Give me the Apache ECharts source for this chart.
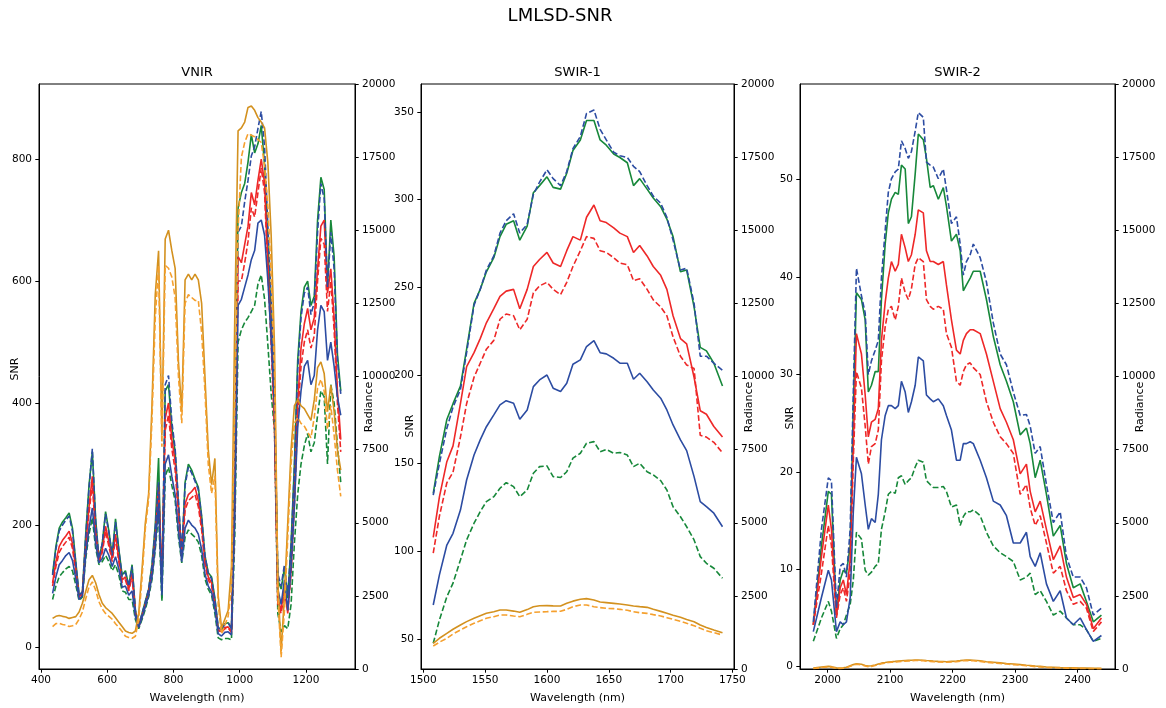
<!DOCTYPE html>
<html><head><meta charset="utf-8">
<script src="https://cdn.jsdelivr.net/npm/echarts@6/dist/echarts.min.js"></script>
<style>html,body{margin:0;padding:0;background:#fff}#c{width:1166px;height:708px}</style>
</head><body><div id="c"></div>
<script>
// ---------------- VNIR ----------------
const vnirWl = [435,445,455,465,475,485,495,505,515,525,535,545,555,565,575,585,595,605,615,625,635,645,655,665,675,685,695,705,715,725,735,745,755,765,775,785,795,805,815,825,835,845,855,865,875,885,895,905,915,925,935,945,955,965,975,985,995,1005,1015,1025,1035,1045,1055,1065,1075,1085,1095,1105,1115,1125,1135,1145,1155,1165,1175,1185,1195,1205,1215,1225,1235,1245,1255,1265,1275,1285,1295,1305];
const vnirGreen = [120,165,195,205,212,220,195,140,85,90, 185,265,320,210,145,170,222,190,150,210, 160,118,125,100,135,60,35,55,75,95, 135,200,310,80,420,430,360,320,235,150, 270,300,290,275,262,215,150,122,115,80, 32,28,38,40,30,300,720,745,760,795, 840,810,825,855,790,660,540,400,110,95, 130,80,170,300,470,550,590,600,560,575, 700,770,750,590,700,640,480,420];
const vnirBlueDash = [118,160,190,200,208,215,190,138,85,90, 180,260,325,205,145,170,218,188,150,205, 158,116,122,100,132,60,35,54,74,95, 132,195,270,85,430,445,370,325,240,155, 265,295,285,272,258,212,150,120,112,78, 32,28,38,40,30,280,680,690,730,765, 805,820,850,878,820,690,570,420,120,100, 135,85,165,290,455,540,580,590,545,565, 680,760,735,590,680,620,470,415];
const vnirRed = [105,140,165,175,182,190,170,128,82,88, 165,230,280,190,140,160,198,172,145,185, 145,110,115,95,120,56,33,52,70,90, 125,180,265,110,375,400,340,305,225,150, 235,250,255,262,240,200,140,115,105,72, 28,25,32,33,25,250,640,630,660,690, 745,725,765,800,760,630,510,370,80,60, 100,55,130,250,400,490,530,555,520,540, 620,690,700,580,620,540,420,340];
const vnirRedDash = [100,132,155,165,172,180,162,122,80,86, 158,220,268,182,138,155,190,165,140,178, 140,106,110,92,115,55,33,50,68,88, 120,172,250,105,355,380,325,290,215,145, 225,240,245,250,230,192,135,110,100,70, 27,24,30,31,24,230,600,600,630,665, 720,705,745,785,745,615,495,355,70,55, 90,60,120,230,380,460,500,520,490,510, 600,670,660,550,600,520,400,320];
const vnirBlue = [88,115,135,142,150,155,142,112,78,84, 150,195,228,170,138,145,162,150,132,148, 128,98,100,85,92,50,32,48,66,85, 115,165,235,90,300,315,280,250,190,140, 195,208,200,195,185,160,120,100,90,62, 22,18,24,25,20,210,560,570,590,610, 635,650,695,700,675,600,505,390,95,70, 110,60,130,230,360,420,460,470,430,445, 520,560,550,470,500,460,410,380];
const vnirGreenDash = [78,100,115,122,128,132,125,102,76,82, 145,185,212,162,135,140,150,140,125,135, 118,92,90,78,78,45,30,45,62,82, 110,160,220,75,280,295,265,240,180,138, 180,192,185,180,172,150,112,95,85,55, 15,12,14,14,12,180,500,520,532,540, 550,560,595,610,570,495,415,355,55,25, 35,30,70,170,250,300,330,350,320,335, 380,420,410,300,430,400,330,270];
const vnirRad = [1730,1800,1830,1800,1780,1730,1760,1790,1950,2250, 2650,3050,3200,2950,2550,2250,2100,2000,1900,1750, 1600,1450,1300,1250,1220,1300,1900,3400,5000,6000, 9000,12800,14300,8000,14700,15000,14300,13700,10500,8800, 13300,13500,13300,13500,13300,12500,10000,7500,6300,7200, 2500,1400,1700,2000,3500,12000,18400,18500,18700,19200, 19250,19100,18850,18700,18500,17300,14800,11000,3000,600, 2500,5000,7500,9000,9200,9000,8900,8700,8500,9200, 10300,10500,10100,8800,9700,8800,7500,6800];
const vnirRadDash = [1450,1550,1560,1520,1500,1450,1480,1520,1700,1950, 2400,2800,2980,2700,2300,2050,1900,1800,1700,1550, 1420,1280,1120,1080,1050,1120,1700,3100,4800,5800, 8500,12000,13800,7600,13800,13700,13400,12700,10000,8400, 12500,12800,12700,12600,12600,11500,9500,7000,6000,6600, 2200,1200,1500,1800,2800,9000,15000,17500,18000,18300, 18250,18200,18100,18000,17200,15800,13500,10200,2500,400, 2000,4500,7000,8400,8600,8400,8300,8100,7900,8600, 9600,9900,9500,8200,9000,8000,6800,5900];

// ---------------- SWIR-1 ----------------
const swir1Wl = [1508,1513,1519,1524,1530,1535,1541,1546,1551,1557,1562,1567,1573,1578,1584,1589,1594,1600,1605,1611,1616,1621,1627,1632,1638,1643,1648,1654,1659,1665,1670,1675,1681,1686,1692,1697,1702,1708,1713,1719,1724,1729,1735,1742];
const swir1Green = [133,154,175,184,194,215,241,249,259,267, 279,286,288,277,285,304,308,313,307,306, 315,328,334,345,345,334,331,326,324,321, 308,312,306,301,296,289,279,259,260,239, 216,214,207,194];
const swir1BlueDash = [132,150,170,182,192,213,240,249,260,268, 281,288,292,281,286,303,310,317,312,308, 316,329,336,349,351,340,334,327,325,324, 319,316,308,302,298,290,277,260,261,241, 211,211,207,203];
const swir1Red = [108,131,151,160,184,205,213,221,230,238, 245,248,249,238,249,262,266,270,264,262, 271,279,277,290,297,288,287,284,281,279, 270,274,268,262,257,249,234,221,218,199, 180,178,171,165];
const swir1RedDash = [99,120,139,145,165,184,199,207,215,220, 232,235,234,226,232,247,251,253,249,246, 253,262,271,279,278,271,270,267,264,263, 254,255,249,243,239,234,222,211,206,204, 166,165,162,156];
const swir1Blue = [69.5,86.6,103.6,110.3,123.5,140.6,154.8,163.4,170.9,177.6, 183.3,185.7,184.2,175.1,180.4,193.7,197.5,200.3,192.8,190.9, 195.6,206.4,208.9,216.5,219.9,213,212.3,209.8,207,207, 197.9,201.3,196.5,191.8,187.1,180.4,171.9,163.4,157.3,142.5, 128.3,125.4,121.7,114];
const swir1GreenDash = [47.7,61,74.2,81.9,95.1,106.5,116,122.6,128.3,131.1, 135.9,139.1,136.8,131.1,134.9,144.4,148.2,148.6,142.5,142, 145.3,153,155.8,161.5,162.4,156.7,158,155.8,156.2,154.8, 148.2,150.1,145.3,143.5,140.2,134.9,125.4,119.7,114,106.5, 97,93.2,90.4,84.7];
const swir1Rad = [878,1050,1220,1360,1504,1620,1733,1818,1903,1960, 2017,2017,1980,1938,2030,2131,2160,2165,2158,2154, 2245,2320,2382,2405,2359,2291,2270,2245,2222,2190, 2154,2131,2108,2040,1970,1903,1835,1767,1690,1618, 1504,1420,1333,1242];
const swir1RadDash = [786,917,1049,1197,1333,1447,1561,1652,1733,1789, 1846,1846,1812,1789,1869,1937,1949,1960,1971,1972, 2040,2131,2188,2188,2131,2097,2074,2063,2040,2006, 1960,1926,1903,1858,1812,1755,1698,1630,1561,1481, 1390,1310,1242,1162];

// ---------------- SWIR-2 ----------------
const swir2Wl = [1977,1990,2001,2006,2014,2020,2025,2030,2036,2041,2046,2054,2060,2065,2070,2076,2081,2086,2092,2097,2102,2108,2113,2118,2124,2129,2134,2140,2145,2153,2158,2164,2169,2177,2185,2190,2198,2206,2212,2217,2222,2228,2233,2244,2254,2265,2276,2286,2297,2308,2318,2324,2332,2340,2350,2361,2372,2382,2393,2404,2414,2425,2438];
const swir2Green = [4.3,12.4,18.0,17.7,5.3, 8.9,9.9,9.6,12.4,26.5, 38.4,37.7,35.6,28.2,28.9, 30.3,30.3,37.7,43.4,46.6, 48.0,48.7,48.5,51.5,51.1, 45.5,46.2,50.6,54.7,54.1, 52.2,49.2,49.4,48.0,49.2, 47.3,43.7,44.4,42.7,38.6, 39.2,39.9,40.6,40.6,37.7, 33.9,31.0,29.3,27.2,23.8, 24.5,22.9,19.4,21.2,17.7, 13.4,14.5,10.6,8.1,8.5, 6.7,4.6,5.3];
const swir2BlueDash = [4.6,14.1,19.4,19.1,6.0, 10.3,10.6,9.2,14.1,28.2, 40.9,38.1,36.3,30.0,31.4, 32.5,33.5,39.9,44.8,48.7, 50.1,50.8,51.1,54.0,53.2, 52.2,52.9,55.0,56.9,56.4, 51.8,51.5,51.3,50.1,51.1, 49.0,45.5,46.2,43.4,40.2, 41.6,42.3,43.4,42.0,39.5, 35.3,32.1,31.0,28.2,25.8, 25.9,24.7,21.9,22.6,18.7, 14.8,15.9,11.3,9.2,9.2, 8.1,5.3,6.0];
const swir2Red = [4.3,11.3,16.6,14.1,5.3, 8.1,8.9,7.4,11.0,22.9, 34.2,32.1,27.9,23.6,25.1, 25.4,26.5,33.5,37.4,39.9, 41.6,40.6,41.3,44.4,43.0, 41.6,42.3,44.4,46.9,46.6, 42.7,41.6,41.6,41.3,41.6, 39.2,35.6,32.5,32.1,33.5, 34.2,34.6,34.6,34.2,32.1, 29.3,26.5,25.1,23.3,19.8, 20.8,18.0,15.9,17.0,14.1, 11.0,12.4,9.2,7.1,7.4, 6.4,3.9,5.0];
const swir2RedDash = [4.3,9.6,14.5,12.4,5.0, 7.4,8.1,6.7,9.6,21.2, 30.3,28.6,24.7,20.8,22.6, 22.9,24.3,31.4,34.9,36.7, 37.0,35.6,37.0,39.9,38.4, 37.7,38.8,41.3,42.0,41.6, 37.7,37.0,36.7,37.0,36.7, 34.2,32.8,29.3,28.9,30.3, 31.0,31.2,30.7,30.0,27.2, 25.1,23.6,22.9,21.9,17.7, 18.7,16.3,14.5,15.5,12.7, 9.6,10.3,7.8,6.4,6.7, 6.0,3.6,4.6];
const swir2Blue = [3.6,7.1,9.9,8.9,3.6, 4.6,4.3,4.6,7.1,15.9, 21.5,19.8,16.6,14.1,15.2, 14.8,17.7,23.3,25.8,26.8, 26.8,26.5,26.8,29.3,28.2, 26.1,27.2,28.9,31.8,31.4, 27.9,27.5,27.2,27.5,26.8, 25.8,24.3,21.2,21.2,22.9, 22.9,23.1,22.9,21.2,19.4, 17.0,16.6,15.5,12.7,12.7, 13.8,11.3,10.3,11.7,8.5, 6.7,7.8,5.0,4.3,5.0, 3.8,2.6,3.2];
const swir2GreenDash = [2.6,5.0,6.7,5.7,2.9, 3.9,4.3,5.3,6.4,8.9, 13.8,13.1,9.9,9.4,9.7, 10.3,10.6,14.1,15.9,17.7, 18.0,17.8,19.4,19.6,18.7, 19.1,19.4,20.5,21.2,21.0, 19.1,18.7,18.4,18.4,18.5, 18.0,16.4,16.6,14.5,15.4, 15.9,15.9,16.1,15.5,13.8, 12.4,11.7,11.3,10.8,8.9, 9.2,9.6,7.4,7.8,6.7, 5.3,5.7,5.0,4.3,4.3, 3.8,2.6,2.9];
const swir2Rad = [30,70,90,80,40, 30,40,60,110,150, 180,160,120,100,110, 140,170,200,220,240, 250,260,270,280,290, 295,300,310,310,300, 290,280,270,260,255, 250,260,270,285,300, 310,305,300,280,250, 230,210,190,170,150, 130,120,100,90,70, 60,50,45,40,35, 30,25,20];
const swir2RadDash = [15,50,70,60,25, 15,25,45,90,130, 160,140,100,80,90, 120,150,180,200,220, 230,240,250,260,270, 275,280,290,290,280, 270,260,250,240,235, 230,240,250,265,280, 290,285,280,260,230, 210,190,170,150,130, 110,100,80,70,55, 45,35,30,25,20, 15,12,10];

// ---------------- tick labels ----------------
const vnirXTicks = [400,600,800,1000,1200];
const swir1XTicks = [1500,1550,1600,1650,1700,1750];
const swir2XTicks = [2000,2100,2200,2300,2400];
const vnirYTicks = [0,200,400,600,800];
const swir1YTicks = [50,100,150,200,250,300,350];
const swir2YTicks = [0,10,20,30,40,50];

// ---------------- chart ----------------
const FONT = 'DejaVu Sans';
const COL = {green:'#17883a', red:'#ee2828', blue:'#2c4ca2', orange:'#d3911f', orangeD:'#f5a02e'};
const DASH = [5.8, 2.6];

const panels = [
  {wl:vnirWl, g:vnirGreen, gd:vnirGreenDash, r:vnirRed, rd:vnirRedDash, b:vnirBlue, bd:vnirBlueDash, os:vnirRad, od:vnirRadDash,
   grid:{left:39, top:84, width:316, height:585}, xmin:394, xmax:1348, xt:vnirXTicks, ymin:-36, ymax:923, yt:vnirYTicks},
  {wl:swir1Wl, g:swir1Green, gd:swir1GreenDash, r:swir1Red, rd:swir1RedDash, b:swir1Blue, bd:swir1BlueDash, os:swir1Rad, od:swir1RadDash,
   grid:{left:421, top:84, width:313, height:585}, xmin:1498.1, xmax:1751.3, xt:swir1XTicks, ymin:33.1, ymax:365.8, yt:swir1YTicks},
  {wl:swir2Wl, g:swir2Green, gd:swir2GreenDash, r:swir2Red, rd:swir2RedDash, b:swir2Blue, bd:swir2BlueDash, os:swir2Rad, od:swir2RadDash,
   grid:{left:800, top:84, width:315, height:585}, xmin:1955.7, xmax:2459.7, xt:swir2XTicks, ymin:-0.24, ymax:59.83, yt:swir2YTicks}
];

function pairs(xs, ys){ return xs.map((x,i)=>[x, ys[i]]); }
const lab = {fontFamily:FONT, fontSize:10.5, color:'#000', formatter:v=>String(v)};
const axLine = {show:true, onZero:false, lineStyle:{color:'#000', width:1}};

const grids=[], xAxes=[], yAxes=[], series=[];
panels.forEach((p,i)=>{
  grids.push(Object.assign({show:true, borderColor:'#000', borderWidth:1, backgroundColor:'#fff', outerBoundsMode:'none', containLabel:false}, p.grid));
  xAxes.push({type:'value', gridIndex:i, min:p.xmin, max:p.xmax,
    name:'Wavelength (nm)', nameLocation:'middle', nameGap:24,
    nameTextStyle:{fontFamily:FONT, fontSize:11, color:'#000'},
    axisLine:axLine, splitLine:{show:false},
    axisTick:{show:true, inside:false, length:3.7, lineStyle:{color:'#000'}, customValues:p.xt},
    axisLabel:Object.assign({margin:6, customValues:p.xt}, lab)});
  yAxes.push({type:'value', gridIndex:i, position:'left', min:p.ymin, max:p.ymax,
    axisLine:axLine, splitLine:{show:false},
    axisTick:{show:true, inside:false, length:3.7, lineStyle:{color:'#000'}, customValues:p.yt},
    axisLabel:Object.assign({margin:7, customValues:p.yt}, lab)});
  yAxes.push({type:'value', gridIndex:i, position:'right', min:0, max:20000, interval:2500,
    axisLine:axLine, splitLine:{show:false},
    axisTick:{show:true, inside:false, length:3.7, lineStyle:{color:'#000'}},
    axisLabel:Object.assign({margin:7}, lab)});
  const mk = (data, color, dashed, yIdx) => ({type:'line', xAxisIndex:i, yAxisIndex:yIdx, data:pairs(p.wl, data),
    showSymbol:false, symbol:'none', silent:true, animation:false,
    lineStyle:{color:color, width:1.6, type: dashed ? DASH : 'solid', cap:'butt'}});
  series.push(mk(p.g, COL.green, false, 2*i));
  series.push(mk(p.gd, COL.green, true, 2*i));
  series.push(mk(p.r, COL.red, false, 2*i));
  series.push(mk(p.rd, COL.red, true, 2*i));
  series.push(mk(p.b, COL.blue, false, 2*i));
  series.push(mk(p.bd, COL.blue, true, 2*i));
  series.push(mk(p.os, COL.orange, false, 2*i+1));
  series.push(mk(p.od, COL.orangeD, true, 2*i+1));
});

function txt(x, y, t, size, rot){
  return {type:'text', x:x, y:y, rotation:rot||0, silent:true,
    style:{text:t, font: size+'px "DejaVu Sans"', fill:'#000', textAlign:'center', textVerticalAlign:'middle', align:'center', verticalAlign:'middle'}};
}
const R90 = Math.PI/2;
const graphic = [
  txt(560, 16, 'LMLSD-SNR', 18),
  txt(197, 73, 'VNIR', 13),
  txt(577.5, 73, 'SWIR-1', 13),
  txt(957.5, 73, 'SWIR-2', 13),
  txt(15, 369, 'SNR', 11, R90),
  txt(410, 426, 'SNR', 11, R90),
  txt(790, 418, 'SNR', 11, R90),
  txt(369, 407, 'Radiance', 11, R90),
  txt(749, 407, 'Radiance', 11, R90),
  txt(1140, 407, 'Radiance', 11, R90)
];

const chart = echarts.init(document.getElementById('c'), null, {renderer:'canvas', width:1166, height:708});
chart.setOption({
  animation:false,
  backgroundColor:'#fff',
  grid:grids, xAxis:xAxes, yAxis:yAxes, series:series,
  graphic:graphic
});
</script>
</body></html>
